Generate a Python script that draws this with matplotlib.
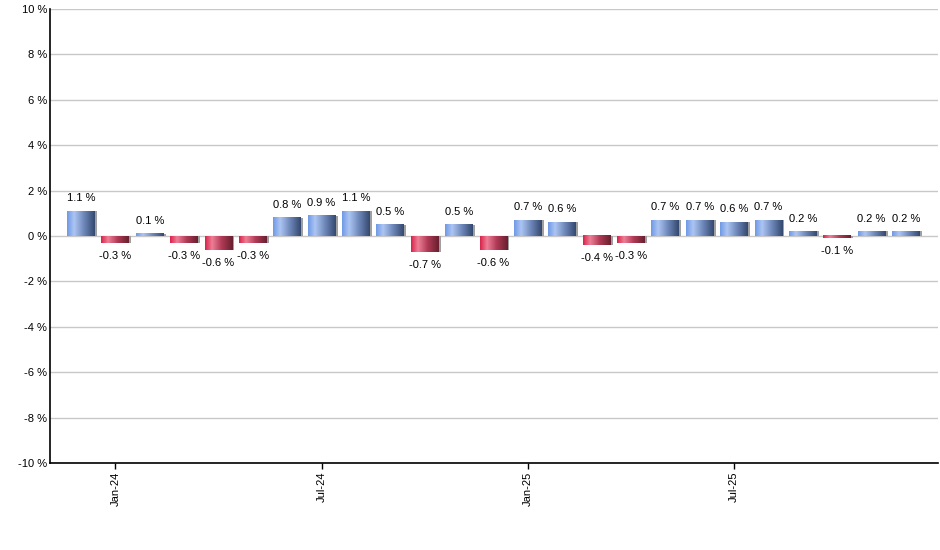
import numpy as np
import matplotlib.pyplot as plt
from matplotlib.colors import LinearSegmentedColormap

# monthly change, Dec-23 .. Dec-25
values = [1.1, -0.3, 0.1, -0.3, -0.6, -0.3, 0.8, 0.9, 1.1, 0.5, -0.7, 0.5, -0.6,
          0.7, 0.6, -0.4, -0.3, 0.7, 0.7, 0.6, 0.7, 0.2, -0.1, 0.2, 0.2]
tick_idx = [1, 7, 13, 19]
tick_labels = ['Jan-24', 'Jul-24', 'Jan-25', 'Jul-25']
yticks = list(range(-10, 11, 2))

plt.rcParams['font.family'] = ['Liberation Sans', 'DejaVu Sans']

blue_cm = LinearSegmentedColormap.from_list(
    'b', [(0, '#7099e6'), (0.25, '#adc6f3'), (0.6, '#6f89bb'), (1, '#34496f')])
red_cm = LinearSegmentedColormap.from_list(
    'r', [(0, '#d8244a'), (0.25, '#ee7f97'), (0.6, '#b03a55'), (1, '#682030')])

fig = plt.figure(figsize=(9.4, 5.5), dpi=100)
ax = fig.add_axes([50 / 940, 1 - 463 / 550, 888 / 940, 454 / 550])

x = np.arange(len(values))
w = 0.81
grad = np.linspace(0, 1, 64).reshape(1, -1)
for xi, v in zip(x, values):
    cm = blue_cm if v >= 0 else red_cm
    # shadow
    ax.bar(xi + 0.06, v, width=w, bottom=0, color='#a0a0a0', zorder=2, linewidth=0)
    lo, hi = (0, v) if v >= 0 else (v, 0)
    ax.imshow(grad, cmap=cm, aspect='auto', extent=[xi - w / 2, xi + w / 2, lo, hi],
              zorder=3, interpolation='bilinear')
    if v >= 0:
        ax.text(xi, v + 0.35, f'{v:.1f} %', ha='center', va='bottom', fontsize=8, zorder=4)
    else:
        ax.text(xi, v - 0.35, f'{v:.1f} %', ha='center', va='top', fontsize=8, zorder=4)

ax.set_xlim(-0.9, 24.93)
ax.set_ylim(-10, 10)
ax.set_yticks(yticks)
ax.set_yticklabels([f'{t} %' for t in yticks], fontsize=8)
ax.tick_params(axis='y', length=0, pad=2)
ax.set_xticks(tick_idx)
ax.set_xticklabels(tick_labels, rotation=90, fontsize=8)
ax.tick_params(axis='x', length=4, width=1, pad=2)
ax.yaxis.grid(True, color='#c8c8c8', linewidth=1, zorder=0)
ax.set_axisbelow(True)
for s in ['top', 'right']:
    ax.spines[s].set_visible(False)
ax.spines['left'].set_linewidth(1.2)
ax.spines['bottom'].set_linewidth(1.2)

fig.savefig('out.png', dpi=100)
